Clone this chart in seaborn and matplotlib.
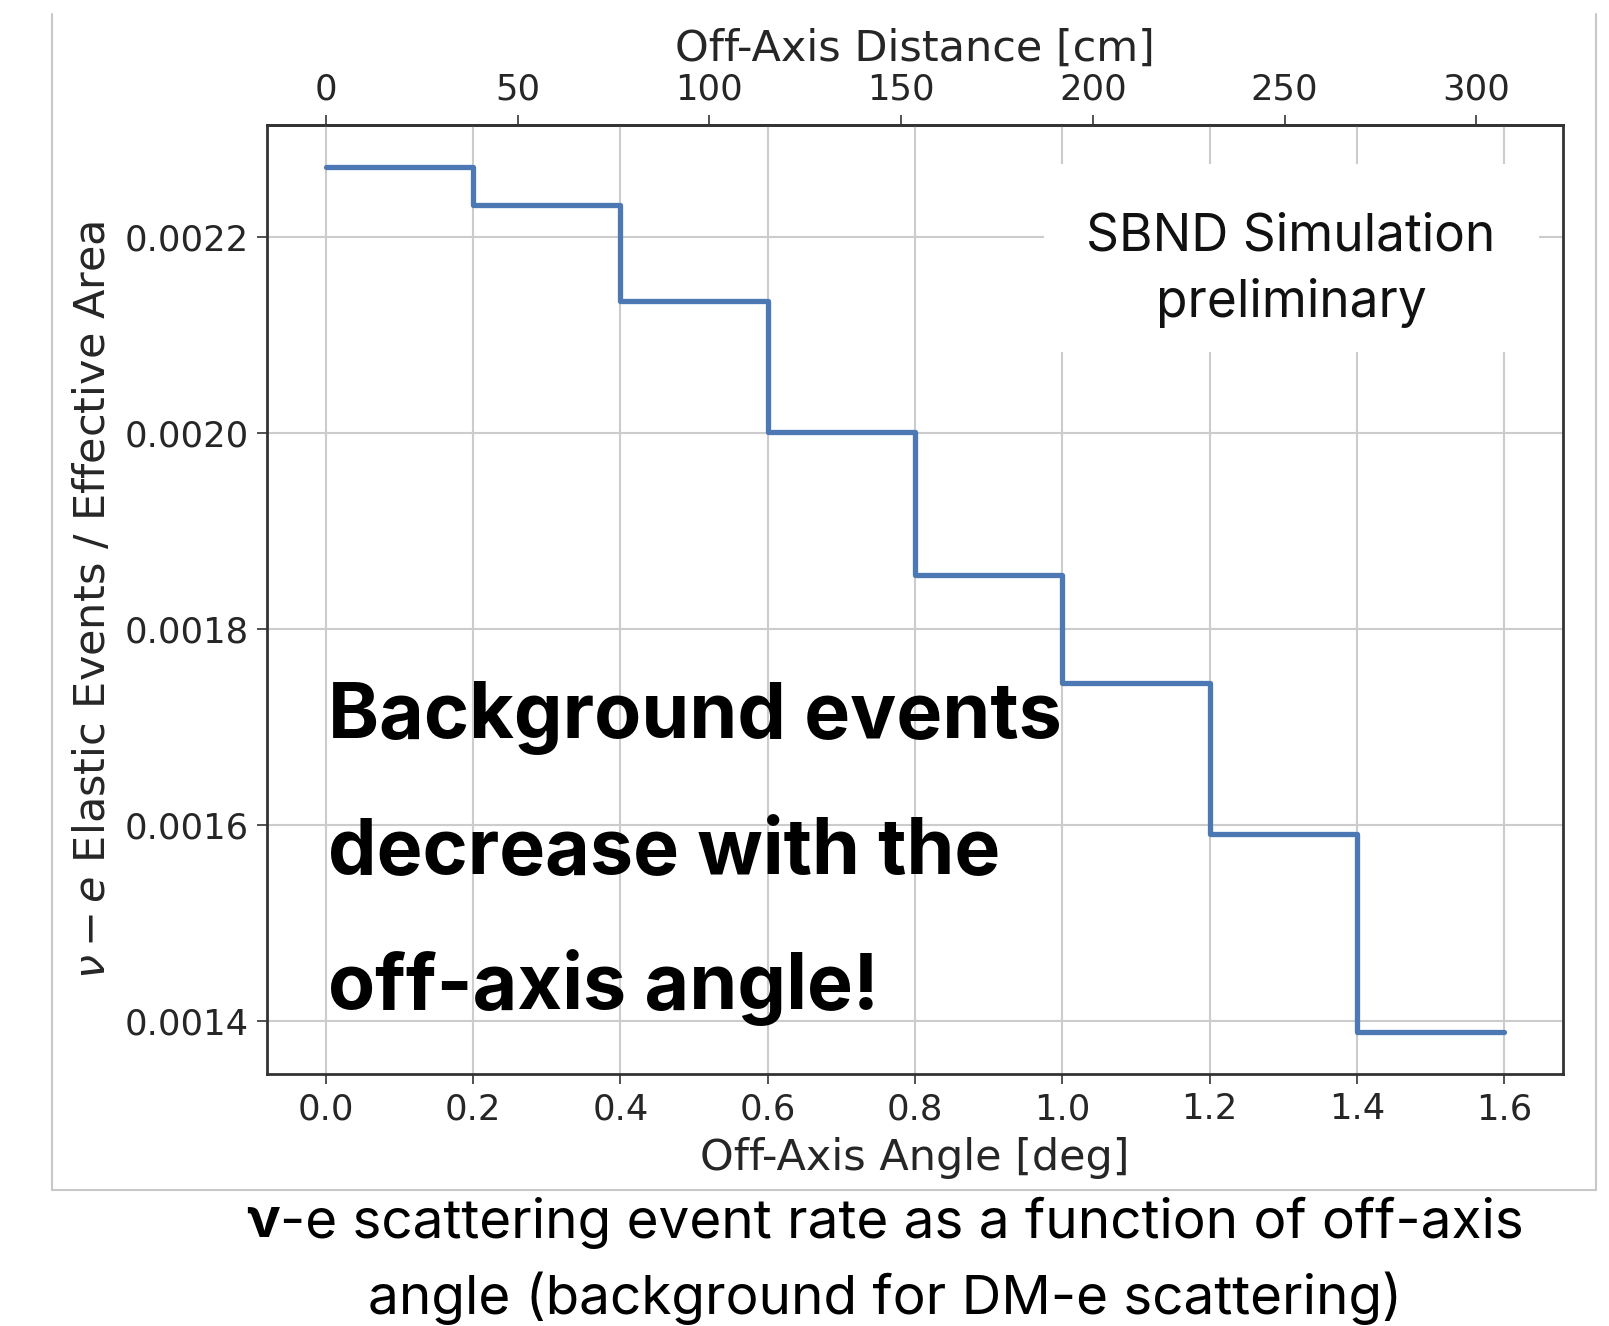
import numpy as np
import pandas as pd
import matplotlib
matplotlib.use("Agg")
import matplotlib.pyplot as plt
import seaborn as sns
from matplotlib.lines import Line2D
from matplotlib.patches import Rectangle

# ---- data ----
angle_edges = [0.0, 0.2, 0.4, 0.6, 0.8, 1.0, 1.2, 1.4, 1.6]
rate_values = [0.002271, 0.0022325, 0.002134, 0.002001, 0.001855, 0.001745, 0.001591, 0.001389]
angle_ticks = [0.0, 0.2, 0.4, 0.6, 0.8, 1.0, 1.2, 1.4, 1.6]
y_ticks = [0.0014, 0.0016, 0.0018, 0.0020, 0.0022]
dist_ticks = [0, 50, 100, 150, 200, 250, 300]
baseline_cm = 11000.0  # SBND ~110 m from target

df = pd.DataFrame({"angle": angle_edges,
                   "rate": rate_values + [rate_values[-1]]})

sns.set_style("whitegrid")
plt.rcParams['font.family'] = ['DejaVu Sans']
plt.rcParams['mathtext.fontset'] = 'dejavusans'

W, H = 1609, 1326
fig = plt.figure(figsize=(W / 100, H / 100), dpi=100)
fig.patch.set_facecolor("white")

def fx(px):
    return px / W

def fy(py):
    return 1 - py / H

ax_l, ax_r, ax_t, ax_b = 267, 1563, 125, 1074
ax = fig.add_axes([fx(ax_l), fy(ax_b), fx(ax_r - ax_l), (ax_b - ax_t) / H])
ax.set_axisbelow(True)

sns.lineplot(data=df, x="angle", y="rate", ax=ax, drawstyle="steps-post",
             color="#4C78B4", linewidth=3.8, zorder=3)

ax.set_xlim(-0.08, 1.68)
ax.set_ylim(0.001346, 0.002314)
ax.set_xticks(angle_ticks)
ax.set_xticklabels([f"{v:.1f}" for v in angle_ticks])
ax.set_yticks(y_ticks)
ax.set_yticklabels([f"{v:.4f}" for v in y_ticks])

tick_fs = 25.5
lab_fs = 31
txt_color = "#262626"
ax.tick_params(axis="both", which="major", labelsize=tick_fs, colors="#333333",
               labelcolor=txt_color, length=7, width=1.2, direction="out",
               left=True, bottom=True, pad=6)
ax.grid(True, color="#cccccc", linewidth=1.5)
for s in ax.spines.values():
    s.set_color("#333333")
    s.set_linewidth(2.0)

ax.set_xlabel("Off-Axis Angle [deg]", fontsize=lab_fs, color=txt_color, labelpad=8)
ax.set_ylabel(r"$\nu - e$ Elastic Events / Effective Area", fontsize=lab_fs,
              color=txt_color, labelpad=8)

def ang2dist(a):
    return baseline_cm * np.tan(np.radians(a))

def dist2ang(d):
    return np.degrees(np.arctan(np.asarray(d) / baseline_cm))

sec = ax.secondary_xaxis("top", functions=(ang2dist, dist2ang))
sec.set_xticks(dist_ticks)
sec.set_xticklabels([str(v) for v in dist_ticks])
sec.tick_params(labelsize=tick_fs, colors="#333333", labelcolor=txt_color,
                length=7, width=1.2, direction="out", pad=6)
sec.set_xlabel("Off-Axis Distance [cm]", fontsize=lab_fs, color=txt_color, labelpad=9)
sec.spines["top"].set_color("#333333")
sec.spines["top"].set_linewidth(2.0)

# white box behind SBND label
def axx(px):
    return (px - ax_l) / (ax_r - ax_l)

def axy(py):
    return 1 - (py - ax_t) / (ax_b - ax_t)

ax.add_patch(Rectangle((axx(1044), axy(352)), axx(1539) - axx(1044), axy(164) - axy(352),
                       transform=ax.transAxes, facecolor="white", edgecolor="none", zorder=1))
slide_font = ["Inter", "DejaVu Sans"]
ax.text(axx(1291), axy(237), "SBND Simulation", transform=ax.transAxes, ha="center",
        va="center", fontsize=37, family=slide_font, color="#111111", zorder=4)
ax.text(axx(1291), axy(303), "preliminary", transform=ax.transAxes, ha="center",
        va="center", fontsize=37, family=slide_font, color="#111111", zorder=4)

# big bold annotation
for txt, py in [("Background events", 718), ("decrease with the", 854), ("off-axis angle!", 988)]:
    fig.text(fx(328), fy(py), txt, ha="left", va="center", fontsize=55.5,
             fontweight="bold", family=slide_font, color="black", zorder=5)

# slide frame around the figure image
frame_kw = dict(color="#c8c8c8", linewidth=1.5, transform=fig.transFigure)
fig.add_artist(Line2D([fx(52), fx(52)], [fy(14), fy(1190)], **frame_kw))
fig.add_artist(Line2D([fx(52), fx(1596)], [fy(1190), fy(1190)], **frame_kw))
fig.add_artist(Line2D([fx(1596), fx(1596)], [fy(14), fy(1190)], **frame_kw))

# caption with bold nu
cap_fs = 39.5
renderer = fig.canvas.get_renderer()
nu = fig.text(0, fy(1223), "\u03bd", ha="left", va="center", fontsize=cap_fs,
              fontweight="bold", family=slide_font, color="black")
rest = fig.text(0, fy(1223), "-e scattering event rate as a function of off-axis",
                ha="left", va="center", fontsize=cap_fs, family=slide_font, color="black")
w_nu = nu.get_window_extent(renderer).width
w_rest = rest.get_window_extent(renderer).width
x0 = 885 - (w_nu + w_rest) / 2
nu.set_x(fx(x0))
rest.set_x(fx(x0 + w_nu))
fig.text(fx(885), fy(1298), "angle (background for DM-e scattering)", ha="center",
         va="center", fontsize=cap_fs, family=slide_font, color="black")

fig.savefig("out.png", dpi=100, facecolor="white")
